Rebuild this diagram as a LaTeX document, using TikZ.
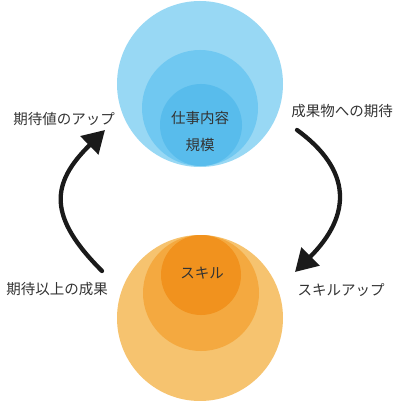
\documentclass[tikz,border=0pt]{standalone}
\usepackage{fontspec}
\setmainfont{Noto Sans CJK JP}
\usepackage{xcolor}
\usepackage{tikz}
\usetikzlibrary{
    arrows.meta,
}
\definecolor{blueout}{HTML}{98D8F4}
\definecolor{bluemid}{HTML}{70C8F1}
\definecolor{bluein}{HTML}{58BCEC}
\definecolor{orangeout}{HTML}{F6C36F}
\definecolor{orangemid}{HTML}{F4A940}
\definecolor{orangein}{HTML}{F1921E}
\definecolor{textgray}{HTML}{333333}
\definecolor{arrowblack}{HTML}{1A1A1A}
\tikzset{
    % Circle styles
    bubble/.style={circle, inner sep=0pt, minimum size=#1},
    % Text styles
    jlabel/.style={font=\fontsize{14.5}{17}\selectfont, text=textgray},
    % Arrow styles
    cycle arrow/.style={-{Triangle[length=22pt, width=25pt]}, line width=4.3pt,
                        line cap=round, arrowblack},
}

\begin{document}
\begin{tikzpicture}[x=1pt, y=-1pt]
    \useasboundingbox (0,0) rectangle (400,401);

    % Nested circles
    \foreach \name/\x/\y/\d/\col in {
        bout/200/84/166/blueout, bmid/200/108/116/bluemid, bin/201/125/82/bluein,
        oout/200/318/166/orangeout, omid/201/293/116/orangemid, oin/201/275/80/orangein} {
        \node[bubble=\d pt, fill=\col] (\name) at (\x,\y) {};
    }

    % Circle texts
    \node[jlabel] (work) at (200,118) {仕事内容};
    \node[jlabel] (scale) at (200,145) {規模};
    \node[jlabel] (skill) at (202,273) {スキル};

    % Side labels
    \node[jlabel] (expup) at (64,119) {期待値のアップ};
    \node[jlabel] (result) at (57,289) {期待以上の成果};
    \node[jlabel] (expect) at (342,111) {成果物への期待};
    \node[jlabel] (skillup) at (341,290) {スキルアップ};

    % Arrow ends
    \coordinate (ltail) at (102,271);
    \coordinate (lhead) at (105,130);
    \coordinate (rtail) at (297,130);
    \coordinate (rhead) at (295,272);

    % Cycle arrows
    \draw[cycle arrow] (ltail) .. controls (48,217) and (50,184) .. (lhead);
    \draw[cycle arrow] (rtail) .. controls (352,170) and (352,215) .. (rhead);
\end{tikzpicture}
\end{document}
